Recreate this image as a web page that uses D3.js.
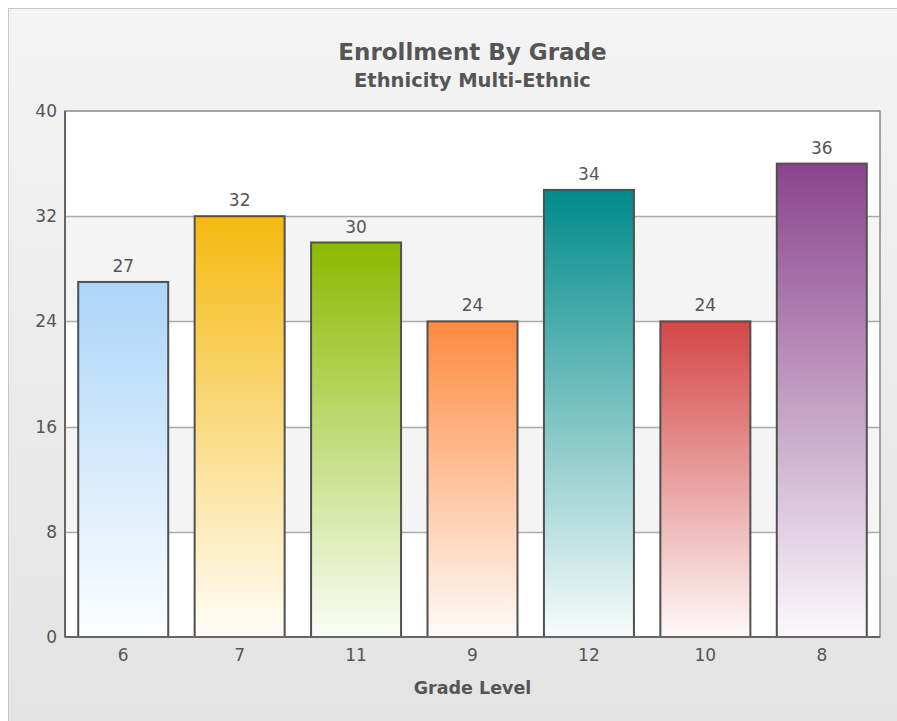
<!DOCTYPE html>
<meta charset="utf-8">
<script src="https://d3js.org/d3.v7.min.js"></script>
<style>
  body { margin: 0; background: #fff; }
  text { font-family: "DejaVu Sans", Verdana, sans-serif; }
</style>
<div id="chart"></div>
<script>
var width = 897
var height = 721

// data
var grades = ["6", "7", "11", "9", "12", "10", "8"]
var counts = [27, 32, 30, 24, 34, 24, 36]
var barColors = ["#acd5f8", "#f5b90f", "#8aba00", "#ff8a40", "#008b8a", "#d44646", "#8a448c"]
var yTicks = [0, 8, 16, 24, 32, 40]

var margin = {top: 111, right: 17, bottom: 84, left: 65}
var plotW = width - margin.left - margin.right
var plotH = height - margin.top - margin.bottom

var svg = d3.select("#chart")
  .append("svg")
    .attr("width", width)
    .attr("height", height)

var defs = svg.append("defs")

var bg = defs.append("linearGradient")
    .attr("id", "bg")
    .attr("x1", 0).attr("y1", 0).attr("x2", 0).attr("y2", 1)
bg.append("stop").attr("offset", 0).attr("stop-color", "#f4f4f4")
bg.append("stop").attr("offset", 1).attr("stop-color", "#e3e3e3")

// one gradient per bar, strong colour at top fading to white
barColors.forEach(function(c, i) {
  var g = defs.append("linearGradient")
      .attr("id", "bar" + i)
      .attr("x1", 0).attr("y1", 0).attr("x2", 0).attr("y2", 1)
  g.append("stop").attr("offset", 0).attr("stop-color", c)
  g.append("stop").attr("offset", 1).attr("stop-color", d3.interpolateRgb(c, "#fff")(0.97))
})

// outer frame
svg.append("rect")
    .attr("x", 8.5).attr("y", 8.5)
    .attr("width", width + 10).attr("height", height + 10)
    .attr("fill", "url(#bg)")
    .style("stroke", "#c8c8c8")
    .style("stroke-width", 1)

svg.append("text")
    .attr("x", margin.left + plotW / 2)
    .attr("y", 60)
    .attr("text-anchor", "middle")
    .style("font-size", "23px")
    .style("font-weight", "bold")
    .style("fill", "#555")
    .text("Enrollment By Grade")

svg.append("text")
    .attr("x", margin.left + plotW / 2)
    .attr("y", 87)
    .attr("text-anchor", "middle")
    .style("font-size", "19.5px")
    .style("font-weight", "bold")
    .style("fill", "#555")
    .text("Ethnicity Multi-Ethnic")

var x = d3.scaleBand()
    .domain(grades)
    .range([0, plotW])
    .paddingInner(0.227)
    .paddingOuter(0.1135)

var y = d3.scaleLinear()
    .domain([0, 40])
    .range([plotH, 0])

var g = svg.append("g")
    .attr("transform", "translate(" + margin.left + "," + margin.top + ")")

g.append("rect")
    .attr("width", plotW).attr("height", plotH)
    .attr("fill", "#fff")

// alternating bands
g.selectAll(".band")
  .data([[24, 32], [8, 16]])
  .enter().append("rect")
    .attr("class", "band")
    .attr("x", 0)
    .attr("width", plotW)
    .attr("y", function(d) { return y(d[1]) })
    .attr("height", function(d) { return y(d[0]) - y(d[1]) })
    .attr("fill", "#f4f4f4")

g.selectAll(".grid")
  .data(yTicks.slice(1, -1))
  .enter().append("line")
    .attr("class", "grid")
    .attr("x1", 0).attr("x2", plotW)
    .attr("y1", function(d) { return Math.round(y(d)) + 0.5 })
    .attr("y2", function(d) { return Math.round(y(d)) + 0.5 })
    .style("stroke", "#aaa")
    .style("stroke-width", 1.5)

g.append("rect")
    .attr("width", plotW).attr("height", plotH)
    .attr("fill", "none")
    .style("stroke", "#888")
    .style("stroke-width", 1.5)

// bars
g.selectAll(".bar")
  .data(counts)
  .enter().append("rect")
    .attr("class", "bar")
    .attr("x", function(d, i) { return x(grades[i]) })
    .attr("width", x.bandwidth())
    .attr("y", function(d) { return y(d) })
    .attr("height", function(d) { return plotH - y(d) })
    .attr("fill", function(d, i) { return "url(#bar" + i + ")" })
    .style("stroke", "#505050")
    .style("stroke-width", 2)

g.selectAll(".val")
  .data(counts)
  .enter().append("text")
    .attr("class", "val")
    .attr("x", function(d, i) { return x(grades[i]) + x.bandwidth() / 2 })
    .attr("y", function(d) { return y(d) - 10 })
    .attr("text-anchor", "middle")
    .style("font-size", "17px")
    .style("fill", "#555")
    .text(function(d) { return d })

// axes lines
g.append("line")
    .attr("x1", 0).attr("x2", 0).attr("y1", 0).attr("y2", plotH)
    .style("stroke", "#666").style("stroke-width", 2)
g.append("line")
    .attr("x1", 0).attr("x2", plotW).attr("y1", plotH).attr("y2", plotH)
    .style("stroke", "#666").style("stroke-width", 2)

var yAxis = g.append("g")
    .call(d3.axisLeft(y).tickValues(yTicks).tickSize(0).tickPadding(8))
yAxis.select(".domain").remove()
yAxis.selectAll("text")
    .style("font-family", "DejaVu Sans, Verdana, sans-serif")
    .style("font-size", "17px")
    .style("fill", "#555")

var xAxis = g.append("g")
    .attr("transform", "translate(0," + plotH + ")")
    .call(d3.axisBottom(x).tickSize(0).tickPadding(12))
xAxis.select(".domain").remove()
xAxis.selectAll("text")
    .style("font-family", "DejaVu Sans, Verdana, sans-serif")
    .style("font-size", "17px")
    .style("fill", "#555")

svg.append("text")
    .attr("x", margin.left + plotW / 2)
    .attr("y", 694)
    .attr("text-anchor", "middle")
    .style("font-size", "17.5px")
    .style("font-weight", "bold")
    .style("fill", "#555")
    .text("Grade Level")
</script>
